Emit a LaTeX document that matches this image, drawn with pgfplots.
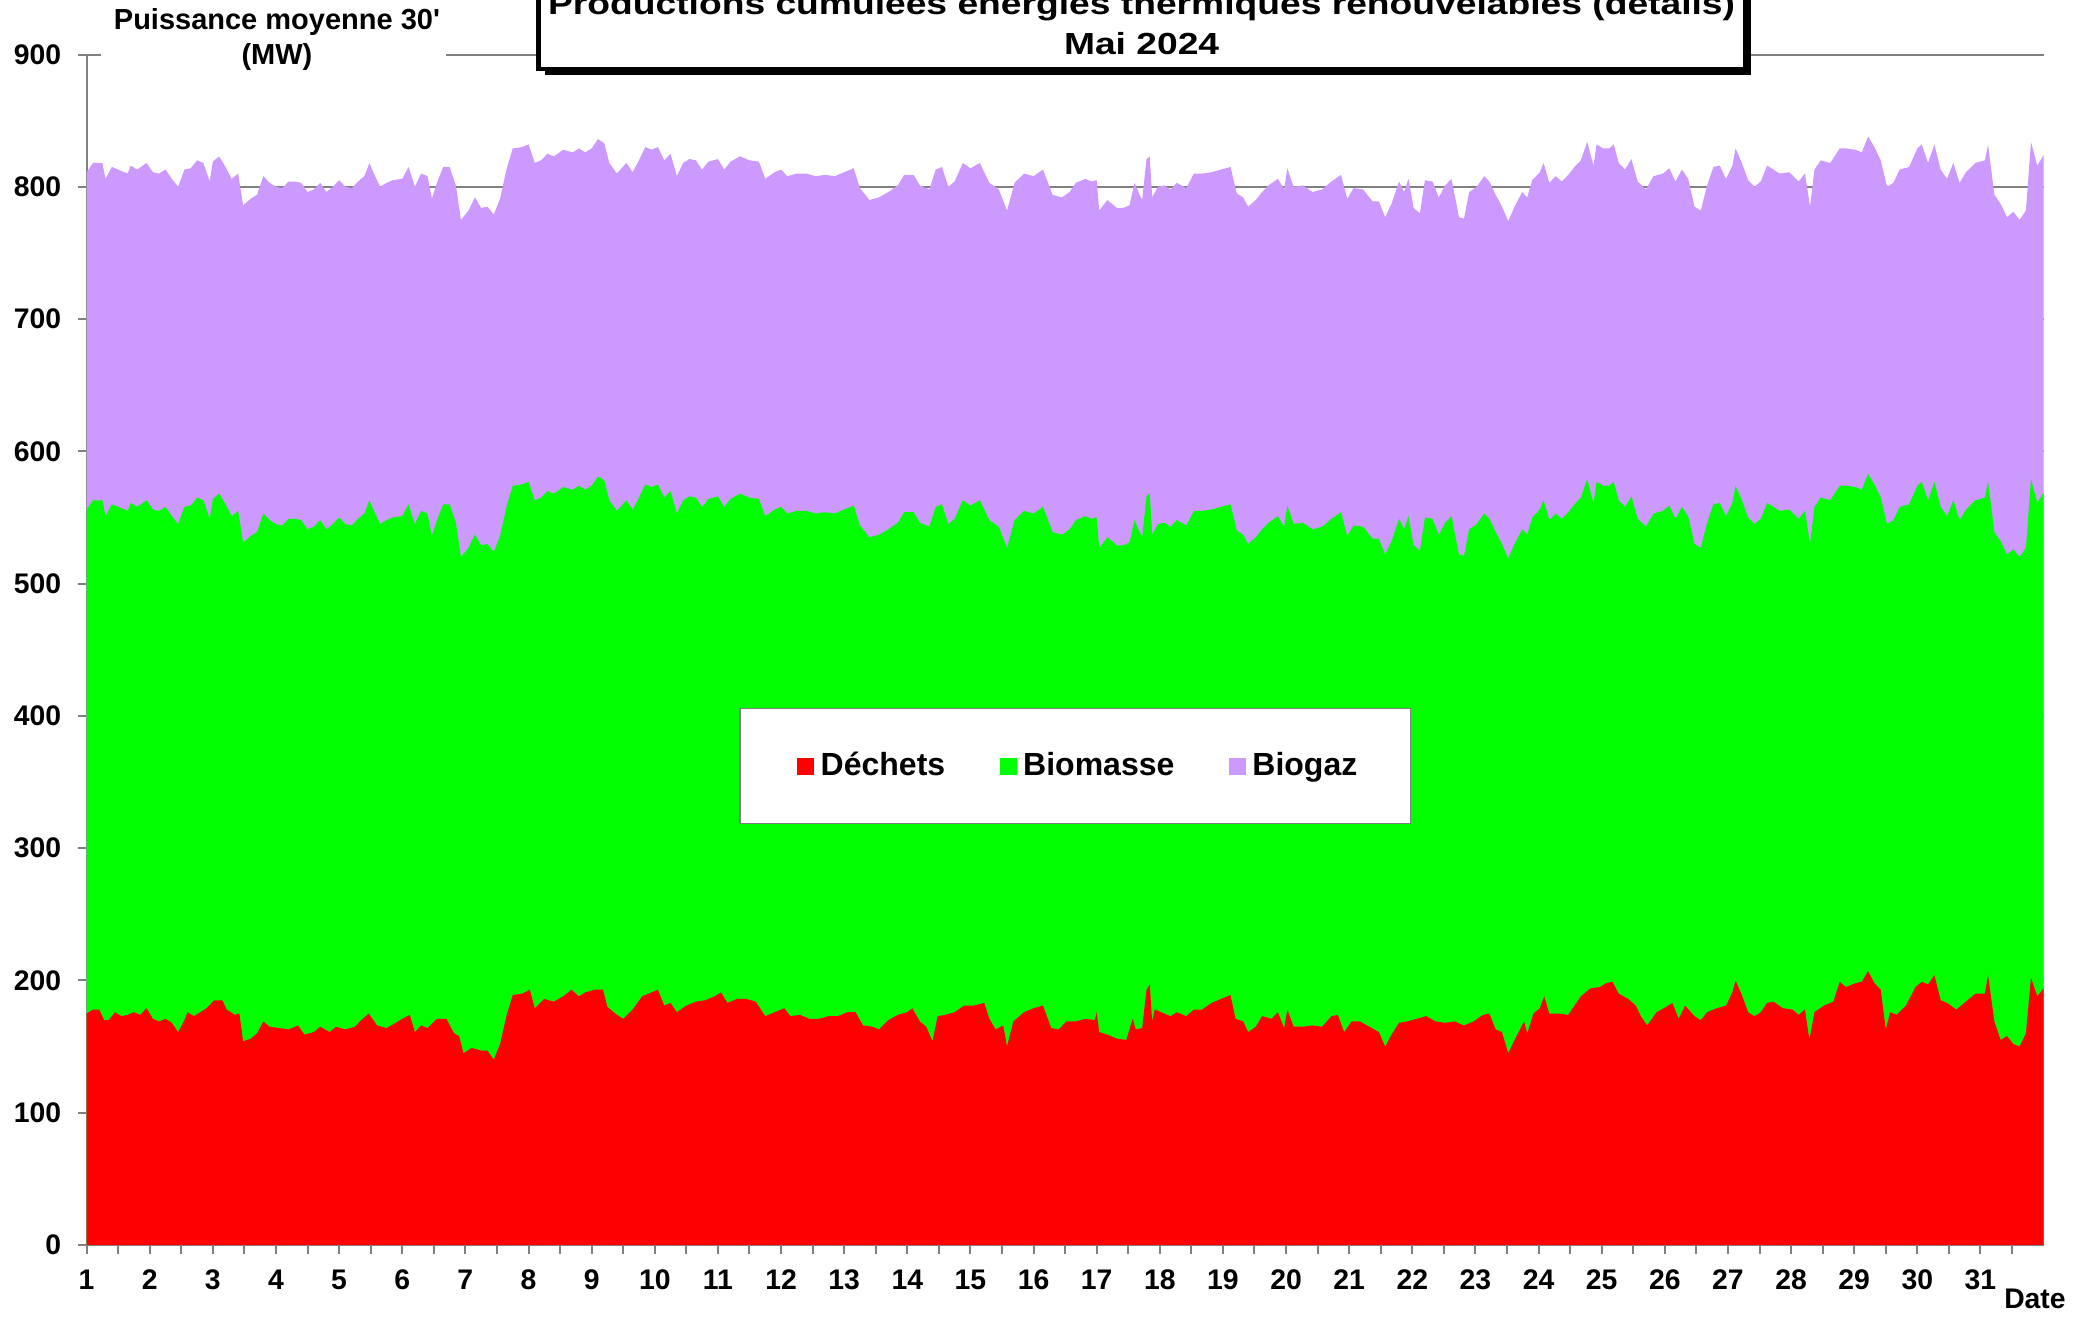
\documentclass[border=0pt]{standalone}
\usepackage{fontspec}
\setmainfont{Liberation Sans}
\newfontfamily\titfont{Liberation Sans}[FakeStretch=1.22]
\newfontfamily\ylabfont{Liberation Sans}[Ligatures=TeXOff]
\usepackage{pgfplots}
\usepackage{pgfplotstable}
\pgfplotsset{compat=1.18}
\definecolor{dech}{RGB}{255,0,0}
\definecolor{biom}{RGB}{0,255,0}
\definecolor{biog}{RGB}{204,153,255}
\definecolor{axgray}{RGB}{128,128,128}

\pgfplotstableread{
d p g
1.00 811 556
1.10 818 563
1.25 818 563
1.30 806 551
1.40 815 560
1.50 813 558
1.65 810 555
1.70 816 561
1.80 813 558
1.95 818 563
2.05 811 556
2.15 810 555
2.25 813 558
2.35 806 551
2.45 800 545
2.55 813 558
2.65 814 559
2.75 820 565
2.85 818 563
2.95 804 549
3.00 819 564
3.10 823 568
3.20 815 560
3.30 806 551
3.40 810 555
3.48 786 531
3.60 791 536
3.70 794 539
3.80 808 553
3.90 803 548
4.00 800 545
4.10 799 544
4.20 804 549
4.30 804 549
4.40 803 548
4.50 796 541
4.60 798 543
4.70 803 548
4.80 796 541
4.90 800 545
5.00 805 550
5.10 800 545
5.20 799 544
5.30 804 549
5.40 808 553
5.48 818 563
5.55 810 555
5.65 800 545
5.75 803 548
5.85 805 550
6.00 806 551
6.10 815 560
6.20 800 545
6.30 810 555
6.40 808 553
6.47 791 536
6.55 803 548
6.65 815 560
6.75 815 560
6.85 801 546
6.93 775 520
7.05 782 527
7.15 792 537
7.25 784 529
7.35 785 530
7.45 779 524
7.55 791 536
7.65 813 558
7.75 829 574
7.90 830 575
8.00 832 577
8.10 818 563
8.20 820 565
8.30 825 570
8.40 823 568
8.55 828 573
8.70 826 571
8.80 829 574
8.90 826 571
9.00 829 574
9.10 836 581
9.20 833 578
9.28 818 563
9.40 810 555
9.55 818 563
9.65 811 556
9.75 820 565
9.85 830 575
9.95 828 573
10.05 830 575
10.15 820 565
10.25 825 570
10.35 808 553
10.45 818 563
10.55 821 566
10.65 820 565
10.75 813 558
10.85 819 564
11.00 821 566
11.10 813 558
11.20 819 564
11.35 823 568
11.50 820 565
11.65 819 564
11.75 806 551
11.90 811 556
12.00 813 558
12.10 808 553
12.25 810 555
12.40 810 555
12.55 808 553
12.70 809 554
12.85 808 553
13.00 811 556
13.15 814 559
13.25 799 544
13.40 790 535
13.55 792 537
13.70 796 541
13.85 801 546
13.95 809 554
14.10 809 554
14.20 801 546
14.35 798 543
14.45 813 558
14.55 815 560
14.65 800 545
14.75 804 549
14.88 818 563
15.00 814 559
15.15 818 563
15.30 803 548
15.45 798 543
15.58 782 527
15.70 803 548
15.85 810 555
16.00 808 553
16.15 813 558
16.30 794 539
16.45 792 537
16.57 796 541
16.67 803 548
16.82 806 551
16.92 804 549
17.00 805 550
17.04 782 527
17.17 790 535
17.32 784 529
17.42 784 529
17.52 786 531
17.60 803 548
17.67 795 540
17.72 790 535
17.79 821 566
17.84 823 568
17.88 792 537
17.97 800 545
18.07 801 546
18.17 798 543
18.27 803 548
18.42 799 544
18.54 810 555
18.67 810 555
18.82 811 556
18.97 813 558
19.12 815 560
19.22 795 540
19.32 792 537
19.40 785 530
19.52 790 535
19.62 796 541
19.72 801 546
19.87 806 551
19.97 798 543
20.02 814 559
20.12 800 545
20.27 801 546
20.42 796 541
20.57 798 543
20.72 804 549
20.87 809 554
20.97 791 536
21.07 799 544
21.22 798 543
21.37 789 534
21.47 789 534
21.57 777 522
21.67 787 532
21.79 804 549
21.87 796 541
21.94 806 551
22.02 784 529
22.12 780 525
22.20 805 550
22.32 804 549
22.42 792 537
22.52 801 546
22.62 806 551
22.74 777 522
22.82 776 521
22.90 796 541
23.02 800 545
23.14 808 553
23.22 804 549
23.32 794 539
23.42 785 530
23.52 774 519
23.62 785 530
23.74 796 541
23.82 792 537
23.90 805 550
24.02 811 556
24.08 818 563
24.17 803 548
24.27 808 553
24.37 804 549
24.47 809 554
24.57 815 560
24.67 820 565
24.77 834 579
24.87 816 561
24.92 832 577
25.02 829 574
25.12 829 574
25.19 832 577
25.27 818 563
25.37 813 558
25.47 821 566
25.57 804 549
25.70 798 543
25.82 808 553
25.97 810 555
26.07 814 559
26.17 804 549
26.27 813 558
26.37 806 551
26.47 785 530
26.57 782 527
26.67 801 546
26.77 815 560
26.87 816 561
26.97 806 551
27.07 816 561
27.12 829 574
27.22 818 563
27.32 805 550
27.42 800 545
27.52 804 549
27.62 816 561
27.72 813 558
27.82 810 555
27.97 811 556
28.12 804 549
28.22 810 555
28.30 785 530
28.37 813 558
28.47 820 565
28.62 818 563
28.77 829 574
28.87 829 574
29.02 828 573
29.12 826 571
29.22 838 583
29.32 830 575
29.42 820 565
29.52 800 545
29.62 803 548
29.72 813 558
29.87 815 560
30.00 829 574
30.07 832 577
30.17 818 563
30.27 832 577
30.37 813 558
30.47 806 551
30.57 818 563
30.67 803 548
30.77 811 556
30.92 818 563
31.07 820 565
31.12 832 577
31.22 794 539
31.32 787 532
31.42 777 522
31.52 781 526
31.62 775 520
31.72 782 527
31.80 834 579
31.90 816 561
32.00 824 569
}\tabPG

\pgfplotstableread{
d r
1.00 175
1.10 178
1.20 178
1.28 170
1.35 170
1.45 176
1.55 173
1.65 174
1.75 176
1.85 174
1.95 179
2.05 171
2.15 169
2.25 171
2.35 168
2.45 161
2.55 170
2.60 176
2.70 173
2.80 176
2.90 179
3.02 185
3.15 185
3.22 178
3.35 174
3.42 175
3.48 154
3.60 156
3.70 160
3.80 169
3.90 165
4.05 164
4.20 163
4.35 166
4.45 159
4.60 161
4.70 165
4.85 161
4.95 165
5.10 163
5.25 165
5.35 170
5.47 175
5.60 166
5.75 164
5.90 168
6.00 171
6.12 174
6.20 161
6.30 166
6.40 164
6.55 171
6.70 171
6.82 160
6.90 158
6.97 145
7.10 149
7.25 147
7.35 147
7.45 140
7.55 152
7.65 173
7.75 189
7.90 190
8.02 193
8.10 179
8.25 186
8.40 184
8.55 188
8.68 193
8.80 188
8.90 191
9.05 193
9.18 193
9.25 180
9.40 174
9.50 171
9.65 178
9.80 188
9.90 190
10.05 193
10.15 181
10.25 183
10.35 176
10.50 181
10.65 184
10.80 185
10.95 188
11.05 191
11.15 183
11.30 186
11.45 186
11.60 184
11.75 173
11.90 176
12.05 179
12.15 173
12.30 174
12.45 171
12.60 171
12.75 173
12.90 173
13.05 176
13.18 176
13.30 166
13.45 165
13.55 163
13.70 170
13.85 174
14.00 176
14.08 179
14.20 169
14.30 165
14.40 154
14.48 173
14.60 174
14.75 176
14.90 181
15.05 181
15.22 183
15.30 171
15.40 163
15.52 166
15.58 150
15.68 169
15.85 176
16.00 179
16.15 181
16.28 164
16.40 163
16.52 169
16.67 169
16.82 171
16.97 170
17.00 176
17.04 161
17.17 159
17.32 156
17.47 155
17.57 171
17.62 163
17.72 164
17.79 193
17.84 197
17.88 169
17.92 178
18.07 175
18.17 173
18.27 176
18.42 173
18.54 178
18.67 178
18.82 183
18.97 186
19.12 189
19.20 171
19.32 169
19.40 161
19.52 165
19.62 173
19.77 171
19.87 176
19.97 164
20.02 178
20.12 165
20.27 165
20.42 166
20.57 165
20.72 173
20.82 174
20.92 161
21.04 169
21.17 169
21.32 165
21.47 161
21.57 150
21.67 159
21.79 168
21.92 169
22.07 171
22.22 173
22.37 169
22.52 168
22.67 169
22.82 166
22.97 169
23.12 174
23.22 175
23.32 163
23.42 161
23.52 145
23.62 155
23.77 169
23.82 160
23.92 175
24.02 179
24.09 188
24.17 175
24.32 175
24.47 174
24.57 181
24.67 188
24.82 194
24.97 195
25.07 198
25.17 199
25.27 190
25.42 186
25.54 181
25.62 173
25.72 166
25.87 176
26.02 180
26.12 183
26.22 171
26.32 181
26.47 173
26.57 170
26.67 176
26.82 179
26.97 181
27.07 191
27.12 200
27.22 189
27.32 176
27.42 173
27.52 176
27.62 183
27.72 184
27.87 179
28.02 178
28.12 174
28.22 178
28.29 155
28.37 176
28.52 181
28.67 184
28.77 199
28.87 195
29.02 198
29.12 199
29.22 207
29.32 198
29.42 193
29.50 163
29.57 176
29.67 174
29.82 181
29.97 195
30.07 199
30.17 197
30.27 204
30.37 185
30.47 183
30.62 178
30.77 184
30.92 190
31.07 190
31.12 204
31.22 169
31.32 155
31.42 158
31.52 152
31.62 150
31.72 160
31.80 202
31.90 188
32.00 194
}\tabR

\begin{document}
\begin{tikzpicture}
\begin{axis}[
  at={(0pt,0pt)}, anchor=south west,
  scale only axis, width=587.1pt, height=357.15pt,
  xmin=1, xmax=32, ymin=0, ymax=900,
  axis x line*=bottom, axis y line*=left,
  axis line style={axgray, line width=0.6pt, -},
  xtick={1,2,...,31},
  minor xtick={1.5,2.5,...,31.5},
  ytick={0,100,...,900},
  ymajorgrids, grid style={axgray, line width=0.6pt},
  tick align=outside,
  major tick length=2.6pt, minor tick length=2.6pt,
  every tick/.style={axgray, line width=0.6pt},
  /pgf/number format/assume math mode=true,
  ticklabel style={font=\bfseries\fontsize{8.5}{10}\selectfont},
  xticklabel style={yshift=-1.4pt},
  yticklabel style={xshift=-1.5pt},
  legend columns=3,
  reverse legend,
  legend image code/.code={\path (-3.2pt,0pt); \fill[#1] (0pt,-2.55pt) rectangle (5.1pt,2.55pt);},
  legend style={at={(axis cs:16.66,362)}, anchor=center, draw=axgray, fill=white,
    inner xsep=13.9pt, inner ysep=11pt,
    font=\bfseries\fontsize{9.6}{10.5}\selectfont,
    /tikz/every even column/.append style={column sep=11.1pt}},
]
\addplot[fill=biog, draw=none] table[x=d,y=p]{\tabPG} \closedcycle;
\addlegendentry{Biogaz}
\addplot[fill=biom, draw=none] table[x=d,y=g]{\tabPG} \closedcycle;
\addlegendentry{Biomasse}
\addplot[fill=dech, draw=none] table[x=d,y=r]{\tabR} \closedcycle;
\addlegendentry{Déchets}
\end{axis}
% y axis label with white background
\fill[white] (4.3pt,352pt) rectangle (107.8pt,380pt);
\node[font=\ylabfont\bfseries\fontsize{8.7}{10}\selectfont, anchor=base] at (57.1pt,364.5pt) {Puissance moyenne 30'};
\node[font=\bfseries\fontsize{8.7}{10}\selectfont, anchor=base] at (57.1pt,354pt) {(MW)};
% title box with shadow
\fill[black] (137.45pt,350.85pt) rectangle (499.45pt,390pt);
\filldraw[fill=white, draw=black, line width=1.35pt] (135.5pt,352.8pt) rectangle (497.5pt,392pt);
\node[font=\titfont\bfseries\fontsize{9.15}{11}\selectfont, anchor=base] at (316.5pt,369pt) {Productions cumulées énergies thermiques renouvelables (détails)};
\node[font=\titfont\bfseries\fontsize{9.15}{11}\selectfont, anchor=base] at (316.5pt,357pt) {Mai 2024};
% x axis label
\node[font=\bfseries\fontsize{8.5}{10}\selectfont, anchor=base] at (584.5pt,-19.2pt) {Date};
\pgfresetboundingbox
\path[use as bounding box] (-25.98pt,-22.2pt) rectangle (600.42pt,373.5pt);
\end{tikzpicture}
\end{document}
